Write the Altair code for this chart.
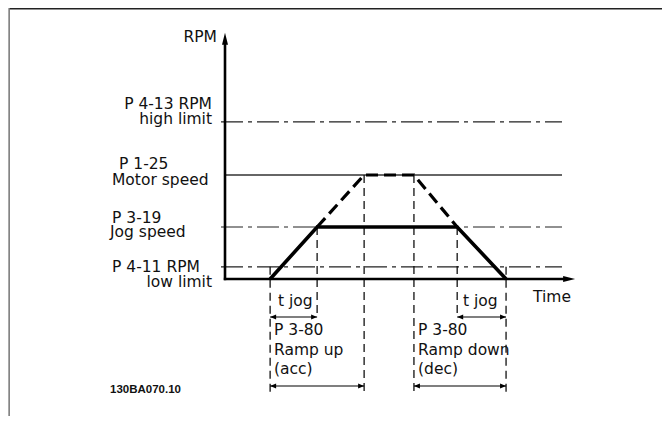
import altair as alt
import pandas as pd

# ---------------- data (diagram units: time, speed in RPM) ----------------
# time points: ramp start, jog speed reached, motor speed reached,
#              decel start, jog end, stop
time_points = [0.96, 1.96, 2.96, 4.02, 4.94, 5.98]
level_names = ["low limit", "jog speed", "motor speed", "high limit"]
level_rpm = [175, 750, 1500, 2265]
t_axis_end = 7.45
t_line_end = 7.17
rpm_axis_top = 3550

left_labels = [
    # text, x(px), baseline(px), align
    ("RPM", 217, 42, "right"),
    ("P 4-13 RPM", 212, 109, "right"),
    ("high limit", 212, 124, "right"),
    ("P 1-25", 119, 169, "left"),
    ("Motor speed", 112, 185, "left"),
    ("P 3-19", 112, 223, "left"),
    ("Jog speed", 110, 237, "left"),
    ("P 4-11 RPM", 112, 272, "left"),
    ("low limit", 212, 287, "right"),
    ("Time", 533, 302, "left"),
    ("t jog", 278, 306, "left"),
    ("t jog", 463, 306, "left"),
    ("P 3-80", 274, 335, "left"),
    ("Ramp up", 274, 355, "left"),
    ("(acc)", 274, 374, "left"),
    ("P 3-80", 418, 335, "left"),
    ("Ramp down", 418, 355, "left"),
    ("(dec)", 418, 374, "left"),
]
code_label = "130BA070.10"

# ---------------- scale set-up ----------------
W, H = 654, 408
X0, KX = 225.0, 47.0            # page px of t=0, px per time unit
Y0, KY = 279.0, 104.0 / 1500.0  # page px of rpm=0, px per rpm


def tx(px):
    return (px - X0) / KX


def ry(px):
    return (Y0 - px) / KY


xs = alt.Scale(domain=[tx(8), tx(8 + W)], nice=False, zero=False)
ys = alt.Scale(domain=[ry(8 + H), ry(8)], nice=False, zero=False)

t0, t1, t2, t3, t4, t5 = time_points
low, jog, motor, high = level_rpm


def rules(df, **kw):
    return alt.Chart(df).mark_rule(**kw).encode(
        x=alt.X("x:Q", scale=xs, axis=None),
        x2="x2:Q",
        y=alt.Y("y:Q", scale=ys, axis=None),
        y2="y2:Q",
    )


def line(df, **kw):
    return alt.Chart(df).mark_line(**kw).encode(
        x=alt.X("x:Q", scale=xs, axis=None),
        y=alt.Y("y:Q", scale=ys, axis=None),
        order="o:Q",
    )


def points(df, shape, size):
    return alt.Chart(df).mark_point(
        shape=shape, size=size, filled=True, opacity=1, color="black", strokeWidth=0
    ).encode(
        x=alt.X("x:Q", scale=xs, axis=None),
        y=alt.Y("y:Q", scale=ys, axis=None),
    )


layers = []

# frame (top + left)
layers.append(rules(pd.DataFrame({"x": [tx(9)], "x2": [tx(8 + W)], "y": [ry(8.8)], "y2": [ry(8.8)]}),
                    color="#222", strokeWidth=1.6))
layers.append(rules(pd.DataFrame({"x": [tx(9.2)], "x2": [tx(9.2)], "y": [ry(8)], "y2": [ry(8 + H)]}),
                    color="#777", strokeWidth=1.4))

# level lines (dash-dot)
dd = pd.DataFrame({
    "x": [tx(221)] * 3, "x2": [t_line_end] * 3,
    "y": [low, jog, high], "y2": [low, jog, high],
})
layers.append(rules(dd, color="#222", strokeWidth=1.2, strokeDash=[22, 5, 4, 5]))

# motor speed line (solid thin)
layers.append(rules(pd.DataFrame({"x": [0], "x2": [t_line_end], "y": [motor], "y2": [motor]}),
                    color="#333", strokeWidth=1.3))

# vertical guide lines (dashed)
vg = pd.DataFrame({
    "x": [t0, t1, t2, t3, t4, t5],
    "x2": [t0, t1, t2, t3, t4, t5],
    "y": [low, jog, motor, motor, jog, low],
    "y2": [ry(393), ry(317), ry(393), ry(393), ry(317), ry(393)],
})
layers.append(rules(vg, color="#111", strokeWidth=1.3, strokeDash=[8, 5]))

# axes
layers.append(rules(pd.DataFrame({"x": [0], "x2": [0], "y": [ry(280.2)], "y2": [ry(42)]}),
                    color="black", strokeWidth=2.6))
layers.append(rules(pd.DataFrame({"x": [tx(223.8)], "x2": [tx(566)], "y": [0], "y2": [0]}),
                    color="black", strokeWidth=2.6))
layers.append(points(pd.DataFrame({"x": [0], "y": [rpm_axis_top]}), "M0,0L-0.5,2L0.5,2Z", 144))
layers.append(points(pd.DataFrame({"x": [t_axis_end], "y": [0]}), "M0,0L-2,-0.5L-2,0.5Z", 144))

# jog trajectory (thick solid)
layers.append(line(pd.DataFrame({"x": [t0, t1, t4, t5], "y": [0, jog, jog, 0], "o": [0, 1, 2, 3]}),
                   color="black", strokeWidth=3.6, strokeJoin="miter"))
# normal ramp trajectory (thick dashed)
layers.append(line(pd.DataFrame({"x": [t1, t2, t3, t4], "y": [jog, motor, motor, jog], "o": [0, 1, 2, 3]}),
                   color="black", strokeWidth=3.2, strokeDash=[12, 6]))

# dimension arrows
dim = pd.DataFrame({
    "x": [t0, t4, t0, t3],
    "x2": [t1, t5, t2, t5],
    "y": [ry(317), ry(317), ry(386), ry(386)],
    "y2": [ry(317), ry(317), ry(386), ry(386)],
})
layers.append(rules(dim, color="black", strokeWidth=1.2))
layers.append(points(pd.DataFrame({"x": dim["x"], "y": dim["y"]}), "M0,0L2,-0.8L2,0.8Z", 36))
layers.append(points(pd.DataFrame({"x": dim["x2"], "y": dim["y"]}), "M0,0L-2,-0.8L-2,0.8Z", 36))

# text labels
lab = pd.DataFrame({
    "text": [r[0] for r in left_labels],
    "x": [tx(r[1]) for r in left_labels],
    "y": [ry(r[2]) for r in left_labels],
    "align": [r[3] for r in left_labels],
})
for al in ["left", "right"]:
    layers.append(alt.Chart(lab[lab["align"] == al]).mark_text(
        align=al, baseline="alphabetic", font="DejaVu Sans", fontSize=15.5, color="#111"
    ).encode(
        x=alt.X("x:Q", scale=xs, axis=None),
        y=alt.Y("y:Q", scale=ys, axis=None),
        text="text:N",
    ))

layers.append(alt.Chart(pd.DataFrame({"text": [code_label], "x": [tx(110)], "y": [ry(393)]})).mark_text(
    align="left", baseline="alphabetic", font="Liberation Sans", fontSize=11.5, fontWeight="bold", color="#111"
).encode(
    x=alt.X("x:Q", scale=xs, axis=None),
    y=alt.Y("y:Q", scale=ys, axis=None),
    text="text:N",
))

chart = alt.layer(*layers).properties(
    width=W, height=H, autosize=alt.AutoSizeParams(type="none"), padding=0
).configure_view(stroke=None).configure(background="white")

chart.save("out.html", embed_options={"renderer": "svg", "actions": False})
